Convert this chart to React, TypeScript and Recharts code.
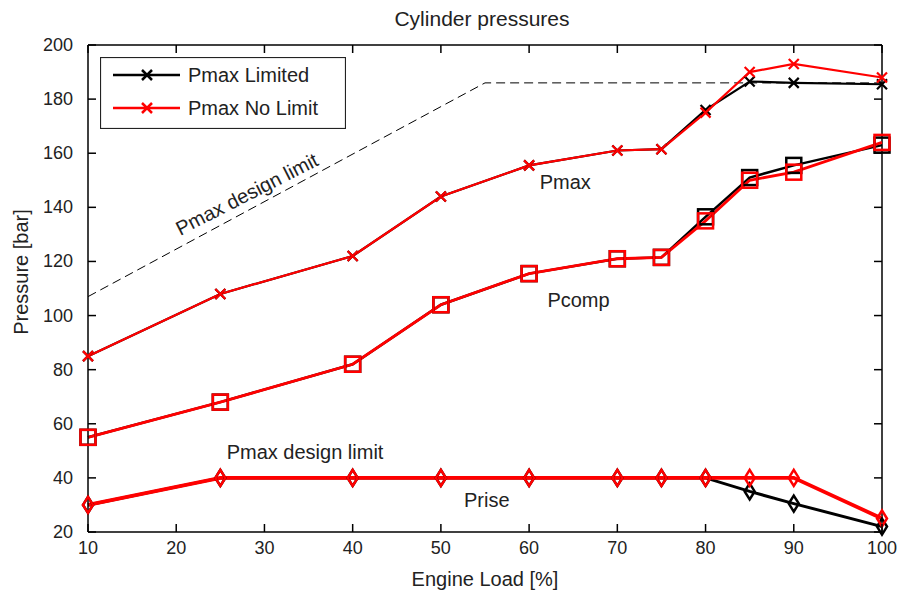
import React from 'react';
import { LineChart, Line, XAxis, YAxis, Legend, ReferenceLine, ReferenceDot } from 'recharts';

if (typeof document !== 'undefined') document.body.style.margin = '0';

const loads = [10, 25, 40, 50, 60, 70, 75, 80, 85, 90, 100];

const pmaxLimited = [85, 108, 122, 144, 155.5, 161, 161.5, 176, 186.5, 186, 185.5];
const pmaxNoLimit = [85, 108, 122, 144, 155.5, 161, 161.5, 175, 190, 193, 188];
const pcompLimited = [55, 68, 82, 104, 115.5, 121, 121.5, 136.5, 151, 155.5, 163];
const pcompNoLimit = [55, 68, 82, 104, 115.5, 121, 121.5, 135, 150, 153, 164];
const priseLimited = [30, 40, 40, 40, 40, 40, 40, 40, 35, 30.5, 22];
const priseNoLimit = [30, 40, 40, 40, 40, 40, 40, 40, 40, 40, 25];

const designLoads = [10, 55, 100];
const designLimit = [107, 186, 186];

const xTicks = [10, 20, 30, 40, 50, 60, 70, 80, 90, 100];
const yTicks = [20, 40, 60, 80, 100, 120, 140, 160, 180, 200];

const W = 901;
const H = 595;
const PLOT_LEFT = 88;
const PLOT_RIGHT = 882;
const PLOT_TOP = 45;
const PLOT_BOTTOM = 532;
const FONT = '"Liberation Sans", Arial, sans-serif';
const RED = '#ff0000';
const BLACK = '#000000';

const toPoints = (xs: number[], ys: number[]) => xs.map((x, i) => ({ load: x, p: ys[i] }));

const xMark = (color: string) => (p: any) => {
  const { cx, cy, index } = p;
  if (cx == null || cy == null) return <g key={index} />;
  const s = 5;
  return (
    <path
      key={index}
      d={`M${cx - s},${cy - s}L${cx + s},${cy + s}M${cx - s},${cy + s}L${cx + s},${cy - s}`}
      stroke={color}
      strokeWidth={2.2}
      fill="none"
    />
  );
};

const squareMark = (color: string) => (p: any) => {
  const { cx, cy, index } = p;
  if (cx == null || cy == null) return <g key={index} />;
  const s = 7.5;
  return <rect key={index} x={cx - s} y={cy - s} width={2 * s} height={2 * s} stroke={color} strokeWidth={2.5} fill="none" />;
};

const diamondMark = (color: string) => (p: any) => {
  const { cx, cy, index } = p;
  if (cx == null || cy == null) return <g key={index} />;
  const w = 5;
  const h = 8;
  return (
    <path
      key={index}
      d={`M${cx},${cy - h}L${cx + w},${cy}L${cx},${cy + h}L${cx - w},${cy}Z`}
      stroke={color}
      strokeWidth={2.5}
      fill="none"
    />
  );
};

const XTick = (props: any) => {
  const { x, payload } = props;
  return (
    <g>
      <line x1={x} y1={PLOT_BOTTOM} x2={x} y2={PLOT_BOTTOM - 8} stroke={BLACK} strokeWidth={1.5} />
      <line x1={x} y1={PLOT_TOP} x2={x} y2={PLOT_TOP + 8} stroke={BLACK} strokeWidth={1.5} />
      <text x={x} y={PLOT_BOTTOM + 22} textAnchor="middle" fontFamily={FONT} fontSize={18} fill="#222">
        {payload.value}
      </text>
    </g>
  );
};

const YTick = (props: any) => {
  const { y, payload } = props;
  return (
    <g>
      <line x1={PLOT_LEFT} y1={y} x2={PLOT_LEFT + 8} y2={y} stroke={BLACK} strokeWidth={1.5} />
      <line x1={PLOT_RIGHT} y1={y} x2={PLOT_RIGHT - 8} y2={y} stroke={BLACK} strokeWidth={1.5} />
      <text x={PLOT_LEFT - 15} y={y + 6} textAnchor="end" fontFamily={FONT} fontSize={18} fill="#222">
        {payload.value}
      </text>
    </g>
  );
};

const textShape = (label: string, angle = 0) => (p: any) => (
  <text
    x={p.cx}
    y={p.cy}
    textAnchor="middle"
    dominantBaseline="central"
    fontFamily={FONT}
    fontSize={20}
    fill="#222"
    transform={angle ? `rotate(${angle} ${p.cx} ${p.cy})` : undefined}
  >
    {label}
  </text>
);

const LegendBox = () => {
  const rows = [
    { name: 'Pmax Limited', color: BLACK },
    { name: 'Pmax No Limit', color: RED },
  ];
  return (
    <svg width={246} height={72} style={{ display: 'block' }}>
      <rect x={0.5} y={0.5} width={245} height={71} fill="#fff" stroke="#222" strokeWidth={1.2} />
      {rows.map((r, i) => {
        const cy = 18 + i * 33;
        return (
          <g key={r.name}>
            <line x1={13} y1={cy} x2={80} y2={cy} stroke={r.color} strokeWidth={2.5} />
            <path d={`M42,${cy - 5}L52,${cy + 5}M42,${cy + 5}L52,${cy - 5}`} stroke={r.color} strokeWidth={2.5} />
            <text x={88} y={cy + 7} fontFamily={FONT} fontSize={20} fill="#222">
              {r.name}
            </text>
          </g>
        );
      })}
    </svg>
  );
};

export default function App() {
  return (
    <div style={{ position: 'relative', width: W, height: H, background: '#fff' }}>
      <div
        style={{
          position: 'absolute',
          top: 6,
          left: 0,
          width: 964,
          textAlign: 'center',
          fontFamily: FONT,
          fontSize: 21,
          lineHeight: '26px',
          color: '#222',
        }}
      >
        Cylinder pressures
      </div>
      <LineChart width={W} height={H} margin={{ top: PLOT_TOP, right: W - PLOT_RIGHT, bottom: 0, left: 0 }}>
        <XAxis
          dataKey="load"
          type="number"
          domain={[10, 100]}
          ticks={xTicks}
          tick={<XTick />}
          tickSize={0}
          tickMargin={0}
          height={H - PLOT_BOTTOM}
          stroke={BLACK}
          strokeWidth={1.5}
          allowDuplicatedCategory={false}
          label={{ value: 'Engine Load [%]', position: 'insideBottom', offset: 9, fontFamily: FONT, fontSize: 20, fill: '#222' }}
        />
        <YAxis
          type="number"
          domain={[20, 200]}
          ticks={yTicks}
          tick={<YTick />}
          tickSize={0}
          tickMargin={0}
          width={PLOT_LEFT}
          stroke={BLACK}
          strokeWidth={1.5}
          label={{
            content: () => (
              <text
                x={28}
                y={272}
                textAnchor="middle"
                fontFamily={FONT}
                fontSize={20}
                fill="#222"
                transform="rotate(-90 28 272)"
              >
                Pressure [bar]
              </text>
            ),
          }}
        />
        <ReferenceLine y={200} stroke={BLACK} strokeWidth={1.5} />
        <ReferenceLine x={100} stroke={BLACK} strokeWidth={1.5} />
        <Legend
          layout="horizontal"
          verticalAlign="middle"
          align="center"
          wrapperStyle={{ position: 'absolute', left: 100, top: 57, width: 246, height: 72 }}
          content={() => <LegendBox />}
        />
        <Line
          data={toPoints(designLoads, designLimit)}
          dataKey="p"
          name="design"
          legendType="none"
          stroke={BLACK}
          strokeWidth={1}
          strokeDasharray="9 5"
          dot={false}
          isAnimationActive={false}
        />
        <Line data={toPoints(loads, pmaxLimited)} dataKey="p" name="Pmax Limited" stroke={BLACK} strokeWidth={2.2} dot={xMark(BLACK)} isAnimationActive={false} />
        <Line data={toPoints(loads, pcompLimited)} dataKey="p" name="Pcomp Limited" legendType="none" stroke={BLACK} strokeWidth={2.5} dot={squareMark(BLACK)} isAnimationActive={false} />
        <Line data={toPoints(loads, priseLimited)} dataKey="p" name="Prise Limited" legendType="none" stroke={BLACK} strokeWidth={3} dot={diamondMark(BLACK)} isAnimationActive={false} />
        <Line data={toPoints(loads, pmaxNoLimit)} dataKey="p" name="Pmax No Limit" stroke={RED} strokeWidth={2.2} dot={xMark(RED)} isAnimationActive={false} />
        <Line data={toPoints(loads, pcompNoLimit)} dataKey="p" name="Pcomp No Limit" legendType="none" stroke={RED} strokeWidth={2.8} dot={squareMark(RED)} isAnimationActive={false} />
        <Line data={toPoints(loads, priseNoLimit)} dataKey="p" name="Prise No Limit" legendType="none" stroke={RED} strokeWidth={3.8} dot={diamondMark(RED)} isAnimationActive={false} />
        <ReferenceDot x={28.0} y={144.9} r={0} shape={textShape('Pmax design limit', -27)} />
        <ReferenceDot x={64.1} y={149.4} r={0} shape={textShape('Pmax')} />
        <ReferenceDot x={65.6} y={105.8} r={0} shape={textShape('Pcomp')} />
        <ReferenceDot x={34.6} y={49.6} r={0} shape={textShape('Pmax design limit')} />
        <ReferenceDot x={55.2} y={31.8} r={0} shape={textShape('Prise')} />
      </LineChart>
    </div>
  );
}
